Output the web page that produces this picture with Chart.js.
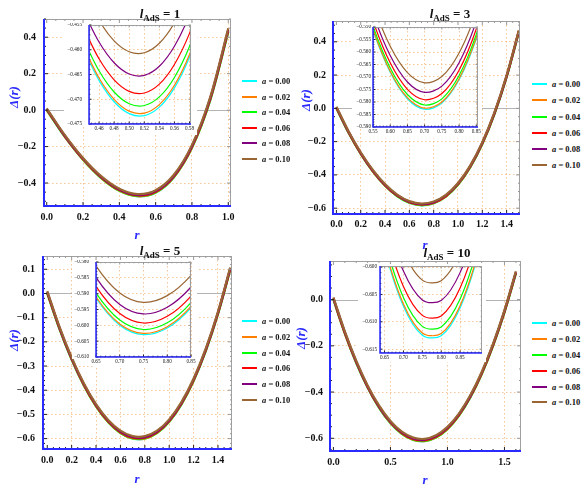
<!DOCTYPE html>
<html>
<head>
<meta charset="utf-8">
<script src="https://cdn.jsdelivr.net/npm/chart.js"></script>
<style>
  body { margin: 0; background: #fff; }
  #page { position: relative; width: 585px; height: 489px; overflow: hidden; background: #fff;
          font-family: "Liberation Serif", "Times New Roman", serif; }
  canvas { position: absolute; }
  .ttl { position: absolute; transform: translate(-50%, -50%); font-weight: bold; font-size: 13px;
         white-space: nowrap; line-height: 1; color: #111; }
  .ttl sub { font-size: 9px; vertical-align: -3px; line-height: 0; }
  .yl { position: absolute; transform: translate(-50%, -50%) rotate(-90deg); color: #2a2aff;
        font-style: italic; font-weight: bold; font-size: 13px; white-space: nowrap; line-height: 1; }
  .xl { position: absolute; transform: translate(-50%, -50%); color: #2a2aff;
        font-style: italic; font-weight: bold; font-size: 13px; line-height: 1; }
  .leg { position: absolute; height: 10px; display: flex; align-items: center; white-space: nowrap;
         font-weight: bold; font-size: 8.5px; color: #111; }
  .leg .sw { display: inline-block; width: 15px; height: 2px; margin-right: 5px; }
</style>
</head>
<body>
<div id="page">
  <canvas id="p1" width="217" height="212" style="left:18px;top:16px"></canvas>
  <canvas id="p2" width="217" height="218" style="left:307px;top:18px"></canvas>
  <canvas id="p3" width="219" height="218" style="left:17px;top:253px"></canvas>
  <canvas id="p4" width="221" height="215" style="left:304px;top:258px"></canvas>
  <canvas id="i1" width="133" height="112" style="left:64px;top:23px"></canvas>
  <canvas id="i2" width="130" height="113" style="left:352px;top:25px"></canvas>
  <canvas id="i3" width="125" height="108" style="left:72px;top:260px"></canvas>
  <canvas id="i4" width="128" height="98" style="left:358px;top:264px"></canvas>

  <div class="ttl" style="left:160px;top:12.5px"><i>l</i><sub>AdS</sub> = 1</div>
  <div class="ttl" style="left:450px;top:12.5px"><i>l</i><sub>AdS</sub> = 3</div>
  <div class="ttl" style="left:160px;top:250px"><i>l</i><sub>AdS</sub> = 5</div>
  <div class="ttl" style="left:447px;top:251.5px"><i>l</i><sub>AdS</sub> = 10</div>

  <div class="yl" style="left:13px;top:97px">Δ(r)</div>
  <div class="yl" style="left:305px;top:100px">Δ(r)</div>
  <div class="yl" style="left:13px;top:340px">Δ(r)</div>
  <div class="yl" style="left:300px;top:338px">Δ(r)</div>

  <div class="xl" style="left:137px;top:234px">r</div>
  <div class="xl" style="left:425px;top:244px">r</div>
  <div class="xl" style="left:137px;top:478px">r</div>
  <div class="xl" style="left:425px;top:479px">r</div>
</div>

<script>
// --- data ---
const aValues = ['0.00', '0.02', '0.04', '0.06', '0.08', '0.10'];
const seriesColors = ['#00ffff', '#ff8000', '#00ff00', '#ff0000', '#800080', '#996633'];

// l_AdS = 1
const r1 = [0, 0.1, 0.2, 0.3, 0.4, 0.5, 0.6, 0.7, 0.8, 0.9, 1.0];
const delta1 = [
  [0, -0.1470, -0.2726, -0.3731, -0.4427, -0.4729, -0.4529, -0.3694, -0.2070, 0.0524, 0.4292],
  [0.0004, -0.1466, -0.2721, -0.3727, -0.4423, -0.4724, -0.4523, -0.3688, -0.2064, 0.0531, 0.4300],
  [0.0016, -0.1454, -0.2709, -0.3714, -0.4409, -0.4709, -0.4507, -0.3670, -0.2044, 0.0553, 0.4324],
  [0.0036, -0.1433, -0.2688, -0.3692, -0.4385, -0.4684, -0.4480, -0.3640, -0.2011, 0.0589, 0.4364],
  [0.0064, -0.1405, -0.2659, -0.3662, -0.4353, -0.4649, -0.4442, -0.3598, -0.1965, 0.0640, 0.4420],
  [0.0100, -0.1369, -0.2622, -0.3622, -0.4311, -0.4604, -0.4393, -0.3545, -0.1906, 0.0705, 0.4492]
];
const rIn1 = [0.44, 0.46, 0.48, 0.50, 0.52, 0.54, 0.56, 0.58, 0.60];
const deltaIn1 = [
  [-0.46007, -0.46619, -0.47050, -0.47290, -0.47330, -0.47160, -0.46770, -0.46150, -0.45288],
  [-0.45959, -0.46571, -0.47001, -0.47240, -0.47279, -0.47108, -0.46718, -0.46096, -0.45234],
  [-0.45816, -0.46425, -0.46853, -0.47090, -0.47127, -0.46953, -0.46560, -0.45936, -0.45070],
  [-0.45577, -0.46183, -0.46607, -0.46840, -0.46873, -0.46695, -0.46297, -0.45669, -0.44798],
  [-0.45243, -0.45844, -0.46263, -0.46490, -0.46517, -0.46334, -0.45930, -0.45295, -0.44418],
  [-0.44813, -0.45408, -0.45820, -0.46040, -0.46060, -0.45869, -0.45457, -0.44814, -0.43928]
];

// l_AdS = 3
const r2 = [0, 0.1, 0.2, 0.3, 0.4, 0.5, 0.6, 0.7, 0.8, 0.9, 1.0, 1.1, 1.2, 1.3, 1.4, 1.5];
const delta2 = [
  [0, -0.1471, -0.2740, -0.3803, -0.4655, -0.5285, -0.5681, -0.5829, -0.5711, -0.5308, -0.4597, -0.3552, -0.2146, -0.0347, 0.1877, 0.4563],
  [0.0004, -0.1467, -0.2736, -0.3799, -0.4651, -0.5280, -0.5677, -0.5825, -0.5707, -0.5304, -0.4592, -0.3547, -0.2141, -0.0342, 0.1882, 0.4568],
  [0.0016, -0.1455, -0.2724, -0.3787, -0.4639, -0.5268, -0.5664, -0.5812, -0.5694, -0.5291, -0.4579, -0.3534, -0.2127, -0.0328, 0.1897, 0.4583],
  [0.0036, -0.1435, -0.2704, -0.3767, -0.4618, -0.5248, -0.5643, -0.5791, -0.5673, -0.5269, -0.4557, -0.3511, -0.2104, -0.0304, 0.1921, 0.4608],
  [0.0064, -0.1407, -0.2676, -0.3739, -0.4590, -0.5219, -0.5614, -0.5761, -0.5643, -0.5238, -0.4526, -0.3479, -0.2071, -0.0271, 0.1955, 0.4643],
  [0.0100, -0.1371, -0.2639, -0.3702, -0.4553, -0.5182, -0.5577, -0.5723, -0.5604, -0.5199, -0.4486, -0.3439, -0.2030, -0.0228, 0.1999, 0.4688]
];
const rIn2 = [0.50, 0.55, 0.60, 0.65, 0.70, 0.75, 0.80, 0.85, 0.90];
const deltaIn2 = [
  [-0.52846, -0.55127, -0.56808, -0.57869, -0.58288, -0.58044, -0.57113, -0.55468, -0.53082],
  [-0.52805, -0.55086, -0.56766, -0.57827, -0.58246, -0.58002, -0.57070, -0.55425, -0.53038],
  [-0.52682, -0.54962, -0.56642, -0.57701, -0.58120, -0.57874, -0.56942, -0.55295, -0.52908],
  [-0.52476, -0.54755, -0.56434, -0.57492, -0.57909, -0.57662, -0.56727, -0.55079, -0.52690],
  [-0.52188, -0.54466, -0.56142, -0.57199, -0.57613, -0.57364, -0.56427, -0.54777, -0.52384],
  [-0.51818, -0.54093, -0.55768, -0.56822, -0.57234, -0.56982, -0.56042, -0.54388, -0.51992]
];

// l_AdS = 5
const r3 = [0, 0.1, 0.2, 0.3, 0.4, 0.5, 0.6, 0.7, 0.8, 0.9, 1.0, 1.1, 1.2, 1.3, 1.4, 1.5];
const delta3 = [
  [0, -0.1471, -0.2741, -0.3809, -0.4673, -0.5329, -0.5773, -0.6000, -0.6003, -0.5775, -0.5308, -0.4593, -0.3620, -0.2378, -0.0855, 0.0963],
  [0.0004, -0.1467, -0.2737, -0.3805, -0.4669, -0.5325, -0.5769, -0.5996, -0.5999, -0.5771, -0.5304, -0.4589, -0.3616, -0.2374, -0.0850, 0.0967],
  [0.0016, -0.1455, -0.2725, -0.3793, -0.4657, -0.5313, -0.5757, -0.5983, -0.5986, -0.5758, -0.5291, -0.4576, -0.3603, -0.2361, -0.0837, 0.0980],
  [0.0036, -0.1435, -0.2705, -0.3773, -0.4637, -0.5293, -0.5736, -0.5963, -0.5966, -0.5738, -0.5271, -0.4555, -0.3582, -0.2340, -0.0816, 0.1002],
  [0.0064, -0.1407, -0.2677, -0.3745, -0.4609, -0.5264, -0.5708, -0.5934, -0.5937, -0.5709, -0.5241, -0.4526, -0.3553, -0.2310, -0.0786, 0.1033],
  [0.0100, -0.1371, -0.2641, -0.3709, -0.4572, -0.5228, -0.5672, -0.5898, -0.5900, -0.5672, -0.5204, -0.4488, -0.3514, -0.2271, -0.0747, 0.1072]
];
const rIn3 = [0.60, 0.65, 0.70, 0.75, 0.80, 0.85, 0.90];
const deltaIn3 = [
  [-0.57730, -0.59138, -0.59996, -0.60294, -0.60084, -0.59444, -0.58384],
  [-0.57689, -0.59097, -0.59955, -0.60253, -0.60043, -0.59403, -0.58343],
  [-0.57567, -0.58975, -0.59833, -0.60131, -0.59921, -0.59281, -0.58221],
  [-0.57364, -0.58772, -0.59629, -0.59926, -0.59716, -0.59076, -0.58016],
  [-0.57080, -0.58487, -0.59343, -0.59640, -0.59430, -0.58790, -0.57730],
  [-0.56715, -0.58121, -0.58976, -0.59272, -0.59062, -0.58422, -0.57362]
];

// l_AdS = 10
const r4 = [0, 0.1, 0.2, 0.3, 0.4, 0.5, 0.6, 0.7, 0.8, 0.9, 1.0, 1.1, 1.2, 1.3, 1.4, 1.5, 1.6];
const delta4 = [
  [0, -0.1471, -0.2741, -0.3812, -0.4681, -0.5348, -0.5812, -0.6072, -0.6125, -0.5972, -0.5608, -0.5032, -0.4242, -0.3235, -0.2007, -0.0556, 0.1123],
  [0.0004, -0.1467, -0.2737, -0.3808, -0.4677, -0.5344, -0.5808, -0.6068, -0.6121, -0.5968, -0.5604, -0.5028, -0.4238, -0.3231, -0.2003, -0.0552, 0.1127],
  [0.0016, -0.1455, -0.2725, -0.3796, -0.4665, -0.5332, -0.5796, -0.6056, -0.6109, -0.5955, -0.5592, -0.5016, -0.4226, -0.3219, -0.1991, -0.0539, 0.1139],
  [0.0036, -0.1435, -0.2705, -0.3776, -0.4645, -0.5312, -0.5776, -0.6035, -0.6089, -0.5935, -0.5572, -0.4996, -0.4206, -0.3198, -0.1970, -0.0519, 0.1160],
  [0.0064, -0.1407, -0.2677, -0.3748, -0.4617, -0.5284, -0.5748, -0.6007, -0.6061, -0.5907, -0.5543, -0.4968, -0.4177, -0.3170, -0.1942, -0.0490, 0.1188],
  [0.0100, -0.1371, -0.2641, -0.3712, -0.4580, -0.5248, -0.5711, -0.5971, -0.6025, -0.5871, -0.5507, -0.4931, -0.4141, -0.3133, -0.1905, -0.0454, 0.1225]
];
const rIn4 = [0.60, 0.65, 0.70, 0.75, 0.80, 0.85, 0.90, 0.95];
const deltaIn4 = [
  [-0.58118, -0.59674, -0.60716, -0.61244, -0.61254, -0.60746, -0.59716, -0.58162],
  [-0.58078, -0.59633, -0.60676, -0.61203, -0.61214, -0.60706, -0.59676, -0.58121],
  [-0.57958, -0.59513, -0.60555, -0.61083, -0.61093, -0.60585, -0.59555, -0.58000],
  [-0.57757, -0.59312, -0.60354, -0.60882, -0.60892, -0.60383, -0.59353, -0.57798],
  [-0.57476, -0.59031, -0.60073, -0.60600, -0.60610, -0.60101, -0.59071, -0.57516],
  [-0.57115, -0.58669, -0.59711, -0.60238, -0.60248, -0.59739, -0.58708, -0.57153]
];

// tick labels
const xTicks1 = [0, 0.2, 0.4, 0.6, 0.8, 1.0];
const yTicks1 = [-0.4, -0.2, 0, 0.2, 0.4];
const xTicks2 = [0, 0.2, 0.4, 0.6, 0.8, 1.0, 1.2, 1.4];
const yTicks2 = [-0.6, -0.4, -0.2, 0, 0.2, 0.4];
const xTicks3 = [0, 0.2, 0.4, 0.6, 0.8, 1.0, 1.2, 1.4];
const yTicks3 = [-0.6, -0.5, -0.4, -0.3, -0.2, -0.1, 0, 0.1];
const xTicks4 = [0, 0.5, 1.0, 1.5];
const yTicks4 = [-0.6, -0.4, -0.2, 0];
const xTicksIn1 = [0.46, 0.48, 0.50, 0.52, 0.54, 0.56, 0.58];
const yTicksIn1 = [-0.475, -0.470, -0.465, -0.460, -0.455];
const xTicksIn2 = [0.55, 0.60, 0.65, 0.70, 0.75, 0.80, 0.85];
const yTicksIn2 = [-0.590, -0.585, -0.580, -0.575, -0.570, -0.565, -0.560, -0.555, -0.550];
const xTicksIn3 = [0.65, 0.70, 0.75, 0.80, 0.85];
const yTicksIn3 = [-0.610, -0.605, -0.600, -0.595, -0.590, -0.585, -0.580];
const xTicksIn4 = [0.65, 0.70, 0.75, 0.80, 0.85];
const yTicksIn4 = [-0.615, -0.610, -0.605, -0.600];

// --- helpers ---
const gridColor = 'rgba(245, 175, 110, 0.7)';
const axisBlue = '#2a2aff';

function fmt(v, d) {
  const s = Math.abs(v) < 1e-12 ? (0).toFixed(d) : v.toFixed(d);
  return s.replace('-', '\u2212');
}

// white backdrop (insets), zero line, frame with inward ticks
const framePlugin = {
  id: 'frame',
  beforeDraw(chart, args, o) {
    if (!o.white) return;
    const c = chart.ctx, a = chart.chartArea;
    c.save();
    c.fillStyle = '#fff';
    // label column + plot, then label row; lower-left corner stays open
    c.fillRect(0, 0, chart.width, a.bottom + 2);
    c.fillRect(a.left - 3, 0, chart.width - a.left + 3, chart.height);
    c.restore();
  },
  beforeDatasetsDraw(chart, args, o) {
    if (!o.zero) return;
    const c = chart.ctx, a = chart.chartArea;
    const py = Math.round(chart.scales.y.getPixelForValue(0)) + 0.5;
    c.save();
    c.strokeStyle = '#b4b4b4';
    c.lineWidth = 1;
    c.beginPath();
    c.moveTo(a.left, py);
    c.lineTo(a.right, py);
    c.stroke();
    c.restore();
  },
  afterDatasetsDraw(chart, args, o) {
    const c = chart.ctx, a = chart.chartArea, sx = chart.scales.x, sy = chart.scales.y;
    const marks = (scale, step) => {
      const majors = scale.ticks.map(t => t.value);
      const out = [];
      for (let k = Math.ceil(scale.min / step - 1e-6); k * step <= scale.max + 1e-9; k++) {
        const v = k * step;
        out.push({ p: scale.getPixelForValue(v), major: majors.some(m => Math.abs(m - v) < step / 4) });
      }
      return out;
    };
    const xs = marks(sx, o.xMinor), ys = marks(sy, o.yMinor);
    const len = m => (m.major ? o.majorLen : o.minorLen);
    c.save();
    c.lineWidth = 1;
    c.strokeStyle = '#a0a0a0';
    c.strokeRect(a.left + 0.5, a.top + 0.5, a.right - a.left - 1, a.bottom - a.top - 1);
    c.strokeStyle = '#222';
    c.beginPath();
    xs.forEach(m => { c.moveTo(m.p, a.bottom); c.lineTo(m.p, a.bottom - len(m)); });
    ys.forEach(m => { c.moveTo(a.left, m.p); c.lineTo(a.left + len(m), m.p); });
    c.stroke();
    c.strokeStyle = '#999';
    c.beginPath();
    xs.forEach(m => { c.moveTo(m.p, a.top); c.lineTo(m.p, a.top + len(m)); });
    ys.forEach(m => { c.moveTo(a.right, m.p); c.lineTo(a.right - len(m), m.p); });
    c.stroke();
    c.strokeStyle = axisBlue;
    c.lineWidth = o.axisWidth;
    c.beginPath();
    c.moveTo(a.left, a.top);
    c.lineTo(a.left, a.bottom);
    c.lineTo(a.right, a.bottom);
    c.stroke();
    c.restore();
  }
};

function axis(range, ticks, size, isY, font, pad, digits) {
  return {
    type: 'linear',
    min: range[0],
    max: range[1],
    afterBuildTicks: sc => { sc.ticks = ticks.map(v => ({ value: v })); },
    afterFit: sc => {
      if (isY) sc.width = size; else sc.height = size;
      sc.paddingLeft = sc.paddingRight = sc.paddingTop = sc.paddingBottom = 0;
    },
    ticks: { autoSkip: false, maxRotation: 0, padding: pad, color: '#111', font: font,
             callback: v => fmt(v, digits) },
    grid: { drawTicks: false, lineWidth: 1,
            color: ctx => (ctx.tick && Math.abs(ctx.tick.value) < 1e-9 ? 'rgba(0,0,0,0)' : gridColor) },
    border: { display: false, dash: [1.5, 2.5] }
  };
}

function makeChart(p) {
  const datasets = p.rows.map((row, i) => ({
    label: 'a = ' + aValues[i],
    data: p.r.map((r, j) => ({ x: r, y: row[j] })),
    borderColor: seriesColors[i],
    borderWidth: p.lw,
    pointRadius: 0,
    tension: 0.33,
    fill: false,
    clip: 0,
    order: p.rows.length - 1 - i
  }));
  const tickFont = p.inset
    ? { family: 'Liberation Serif', size: 5.2 }
    : { family: 'Liberation Serif', size: 10, weight: 'bold' };
  return new Chart(document.getElementById(p.id), {
    type: 'line',
    data: { datasets },
    options: {
      responsive: false,
      animation: false,
      devicePixelRatio: 1,
      layout: { padding: { left: 0, top: p.pad[0], right: p.pad[1], bottom: 0 } },
      elements: { line: { capBezierPoints: false } },
      plugins: {
        legend: { display: false },
        tooltip: { enabled: false },
        frame: {
          white: !!p.inset, zero: !p.inset, xMinor: p.minor[0], yMinor: p.minor[1],
          majorLen: p.inset ? 2.5 : 4, minorLen: p.inset ? 1.3 : 2, axisWidth: p.inset ? 1.5 : 2
        }
      },
      scales: {
        x: axis(p.xr, p.xt, p.xh, false, tickFont, p.xpad, p.xd),
        y: axis(p.yr, p.yt, p.yw, true, tickFont, p.ypad, p.yd)
      }
    },
    plugins: [framePlugin]
  });
}

// --- panels ---
const panels = [
  { id: 'p1', r: r1, rows: delta1, xr: [-0.015, 1.015], yr: [-0.526, 0.5], xt: xTicks1, yt: yTicks1,
    yw: 26, xh: 22, pad: [3, 4], ypad: 8, xpad: 5, xd: 1, yd: 1, minor: [0.05, 0.05], lw: 2.2 },
  { id: 'p2', r: r2, rows: delta2, xr: [-0.028, 1.51], yr: [-0.635, 0.525], xt: xTicks2, yt: yTicks2,
    yw: 26, xh: 22, pad: [3, 4], ypad: 7, xpad: 4, xd: 1, yd: 1, minor: [0.05, 0.05], lw: 2.2 },
  { id: 'p3', r: r3, rows: delta3, xr: [-0.035, 1.515], yr: [-0.643, 0.155], xt: xTicks3, yt: yTicks3,
    yw: 26, xh: 22, pad: [3, 4], ypad: 8, xpad: 5, xd: 1, yd: 1, minor: [0.05, 0.02], lw: 2.2 },
  { id: 'p4', r: r4, rows: delta4, xr: [-0.03, 1.645], yr: [-0.655, 0.167], xt: xTicks4, yt: yTicks4,
    yw: 26, xh: 22, pad: [3, 4], ypad: 7, xpad: 5, xd: 1, yd: 1, minor: [0.1, 0.05], lw: 2.2 },
  { id: 'i1', inset: true, r: rIn1, rows: deltaIn1, xr: [0.4467, 0.582], yr: [-0.475, -0.455], xt: xTicksIn1, yt: yTicksIn1,
    yw: 25, xh: 11, pad: [2, 6], ypad: 7, xpad: 2, xd: 2, yd: 3, minor: [0.005, 0.001], lw: 1.2 },
  { id: 'i2', inset: true, r: rIn2, rows: deltaIn2, xr: [0.55, 0.855], yr: [-0.59, -0.55], xt: xTicksIn2, yt: yTicksIn2,
    yw: 21, xh: 11, pad: [2, 4], ypad: 2, xpad: 2, xd: 2, yd: 3, minor: [0.01, 0.001], lw: 1.2 },
  { id: 'i3', inset: true, r: rIn3, rows: deltaIn3, xr: [0.65, 0.85], yr: [-0.61, -0.58], xt: xTicksIn3, yt: yTicksIn3,
    yw: 24, xh: 11, pad: [2, 6], ypad: 7, xpad: 2, xd: 2, yd: 3, minor: [0.01, 0.001], lw: 1.2 },
  { id: 'i4', inset: true, r: rIn4, rows: deltaIn4, xr: [0.638, 0.908], yr: [-0.6157, -0.5998], xt: xTicksIn4, yt: yTicksIn4,
    yw: 22, xh: 9, pad: [2, 4], ypad: 3, xpad: 2, xd: 2, yd: 3, minor: [0.01, 0.001], lw: 1.2 }
];
panels.forEach(makeChart);

// --- legends ---
const page = document.getElementById('page');
const legendSpots = [
  { left: 242, top: 81, gap: 15.6 },
  { left: 532, top: 84.3, gap: 16.1 },
  { left: 242, top: 321, gap: 15.8 },
  { left: 532, top: 323.3, gap: 15.8 }
];
legendSpots.forEach(spot => {
  aValues.forEach((a, i) => {
    const row = document.createElement('div');
    row.className = 'leg';
    row.style.left = spot.left + 'px';
    row.style.top = (spot.top + i * spot.gap - 5) + 'px';
    row.innerHTML = '<span class="sw" style="background:' + seriesColors[i] + '"></span><i>a</i>&nbsp;=&nbsp;' + a;
    page.appendChild(row);
  });
});
</script>
</body>
</html>
